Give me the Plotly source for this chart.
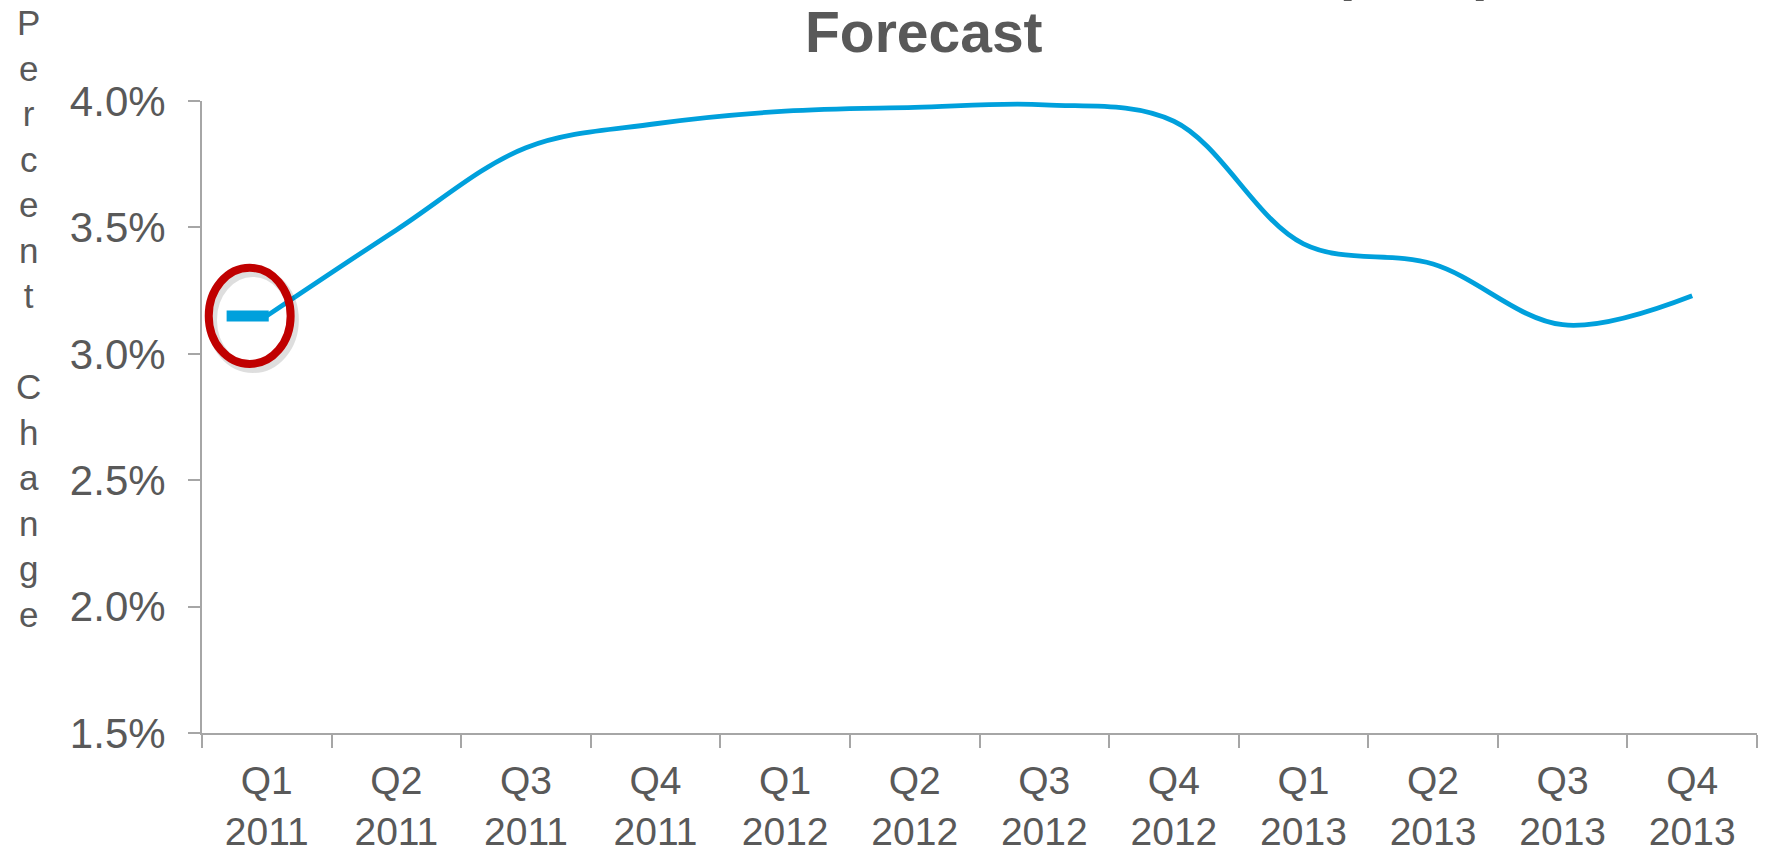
import plotly.graph_objects as go

# ---- data ----
quarters = ["Q1", "Q2", "Q3", "Q4", "Q1", "Q2", "Q3", "Q4", "Q1", "Q2", "Q3", "Q4"]
years = ["2011", "2011", "2011", "2011", "2012", "2012", "2012", "2012", "2013", "2013", "2013", "2013"]
pct_change = [3.15, 3.49, 3.815, 3.91, 3.96, 3.975, 3.985, 3.92, 3.435, 3.355, 3.115, 3.23]
y_tick_vals = [1.5, 2.0, 2.5, 3.0, 3.5, 4.0]
y_tick_text = ["1.5%", "2.0%", "2.5%", "3.0%", "3.5%", "4.0%"]
title_line1 = "U.S. Real Gross Domestic Product (GDP)"
title_line2 = "Forecast"
y_title = "Percent Change"

categories = [f"{q}<br>{y}" for q, y in zip(quarters, years)]

# ---- layout geometry (pixels) ----
W, H = 1768, 857
L, R, T, B = 202, 11, 101, 124
PW, PH = W - L - R, H - T - B


def px_x(px):
    return (px - L) / PW


def px_y(py):
    return (H - B - py) / PH


FONT = "Liberation Sans, Arial, sans-serif"
GREY = "#595959"
AXIS = "#A6A6A6"
BLUE = "#00A0DC"
RED = "#C00000"

fig = go.Figure()
fig.add_trace(go.Scatter(
    x=categories, y=pct_change, mode="lines",
    line=dict(color=BLUE, width=4.8, shape="spline", smoothing=1.0),
    hoverinfo="skip", showlegend=False,
))

# highlight of the first quarter: thick stub + red ellipse (category index 0)
first_y = pct_change[0]
cx, rx = -0.132, 0.316
ry = 0.19
shapes = [
    dict(type="line", xref="x", yref="y", x0=-0.31, x1=0.015, y0=first_y, y1=first_y,
         line=dict(color=BLUE, width=11), layer="above"),
    dict(type="circle", xref="x", yref="y",
         x0=cx - rx + 0.025, x1=cx + rx + 0.025, y0=first_y - ry - 0.016, y1=first_y + ry - 0.016,
         line=dict(color="rgba(0,0,0,0.13)", width=10), layer="above"),
    dict(type="circle", xref="x", yref="y",
         x0=cx - rx, x1=cx + rx, y0=first_y - ry, y1=first_y + ry,
         line=dict(color=RED, width=8), layer="above"),
]

annotations = [
    dict(text="<br>".join(ch if ch != " " else "\u00a0" for ch in y_title),
         xref="paper", yref="paper", x=px_x(28), y=px_y(318),
         xanchor="center", yanchor="middle", showarrow=False,
         font=dict(family=FONT, size=35, color=GREY)),
    dict(text=f"<b>{title_line2}</b>", xref="paper", yref="paper",
         x=px_x(924), y=px_y(-2), xanchor="center", yanchor="top", showarrow=False,
         font=dict(family=FONT, size=57, color=GREY)),
    dict(text=f"<b>{title_line1}</b>", xref="paper", yref="paper",
         x=px_x(940), y=px_y(-65), xanchor="center", yanchor="top", showarrow=False,
         font=dict(family=FONT, size=57, color=GREY)),
]

fig.update_layout(
    width=W, height=H,
    margin=dict(l=L, r=R, t=T, b=B, pad=0, autoexpand=False),
    paper_bgcolor="white", plot_bgcolor="white",
    font=dict(family=FONT, color=GREY),
    shapes=shapes, annotations=annotations,
    showlegend=False,
)
fig.update_xaxes(
    type="category", categoryorder="array", categoryarray=categories,
    range=[-0.5, len(categories) - 0.5], automargin=False,
    showline=True, linecolor=AXIS, linewidth=2,
    ticks="outside", tickson="boundaries", ticklen=13, tickwidth=2, tickcolor=AXIS,
    showgrid=False, zeroline=False,
    tickfont=dict(family=FONT, size=39, color=GREY),
    ticklabelstandoff=12,
)
fig.update_yaxes(
    range=[1.5, 4.0], tickmode="array", tickvals=y_tick_vals, ticktext=y_tick_text,
    automargin=False,
    showline=True, linecolor=AXIS, linewidth=2,
    ticks="outside", ticklen=12, tickwidth=2, tickcolor=AXIS,
    showgrid=False, zeroline=False,
    tickfont=dict(family=FONT, size=42, color=GREY),
    ticklabelstandoff=14,
)

fig.write_html("out.html")
